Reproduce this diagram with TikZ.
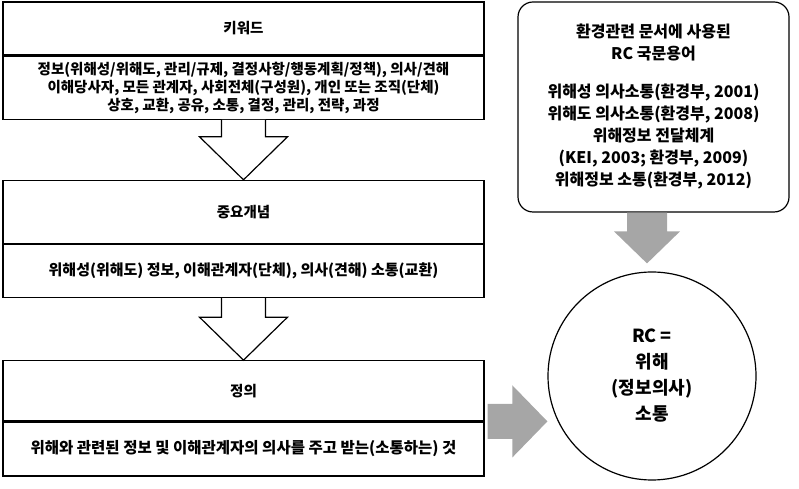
\documentclass[tikz,border=0pt]{standalone}
\usepackage{fontspec}
\setmainfont{Noto Sans CJK KR}
\usetikzlibrary{positioning}
\usetikzlibrary{calc}
\tikzset{frame/.style={line width=1.2pt, draw=black}}
\tikzset{headBox/.style={frame, minimum width=481pt, inner sep=0pt, font=\bfseries\fontsize{14.5}{17}\selectfont}}
\tikzset{bodyBox/.style={frame, minimum width=481pt, inner sep=0pt, align=center}}
\tikzset{hollowArrow/.style={line width=1.2pt, fill=white, draw=black}}
\tikzset{greyArrow/.style={fill=black!35!white, draw=none}}

\begin{document}
\begin{tikzpicture}[x=1pt,y=1pt]
\useasboundingbox (0,0) rectangle (799,489);
%
% keywords
\node[headBox, minimum height=53pt] (kwHead) at (243.5,460.5) {키워드};
\node[bodyBox, minimum height=63pt, below=0pt of kwHead, font=\bfseries\fontsize{14.5}{18}\selectfont] (kwBody) {
	정보(위해성/위해도, 관리/규제, 결정사항/행동계획/정책), 의사/견해\\
	이해당사자, 모든 관계자, 사회전체(구성원), 개인 또는 조직(단체)\\
	상호, 교환, 공유, 소통, 결정, 관리, 전략, 과정
	};
%
% key concepts
\node[headBox, minimum height=63pt, below=60pt of kwBody] (conceptHead) {중요개념};
\node[bodyBox, minimum height=53pt, below=0pt of conceptHead, font=\bfseries\fontsize{15}{18}\selectfont] (conceptBody) {위해성(위해도) 정보, 이해관계자(단체), 의사(견해) 소통(교환)};
%
% definition
\node[headBox, minimum height=60pt, below=62pt of conceptBody] (defHead) {정의};
\node[bodyBox, minimum height=54pt, below=0pt of defHead, font=\bfseries\fontsize{15.5}{18}\selectfont] (defBody) {위해와 관련된 정보 및 이해관계자의 의사를 주고 받는(소통하는) 것};
%
% hollow arrows between the boxes
\draw[hollowArrow] ($(kwBody.south)+(-22,0)$) |- ($(conceptHead.north)+(-44,43)$) -- (conceptHead.north) -- ($(conceptHead.north)+(44,43)$) -| ($(kwBody.south)+(22,0)$);
\draw[hollowArrow] ($(conceptBody.south)+(-22,0)$) |- ($(defHead.north)+(-44,43)$) -- (defHead.north) -- ($(defHead.north)+(44,43)$) -| ($(conceptBody.south)+(22,0)$);
%
% terms used in documents
\node[frame, rounded corners=15pt, minimum width=271pt, minimum height=210pt, align=center,
	font=\bfseries\fontsize{16}{22}\selectfont] (terms) at (653.5,382) {
	환경관련 문서에 사용된\\
	RC 국문용어\\[16pt]
	위해성 의사소통(환경부, 2001)\\
	위해도 의사소통(환경부, 2008)\\
	위해정보 전달체계\\
	(KEI, 2003; 환경부, 2009)\\
	위해정보 소통(환경부, 2012)
	};
%
% RC circle
\node[frame, circle, minimum size=208pt, align=center, font=\bfseries\fontsize{18}{26}\selectfont] (rc) at (652,113) {
	RC =\\
	위해\\
	(정보의사)\\
	소통
	};
%
% grey arrows into the circle
\coordinate (tipD) at ($(rc.north)+(-5,8)$);
\coordinate (topD) at (tipD |- terms.south);
\fill[greyArrow] ($(topD)+(-20,0)$) |- ($(tipD)+(-33,32)$) -- (tipD) -- ($(tipD)+(33,32)$) -| ($(topD)+(20,0)$) -- cycle;
\coordinate (tipR) at (rc.west |- defHead.south);
\coordinate (tailR) at ($(defHead.south east)+(3,0)$);
\fill[greyArrow] ($(tailR)+(0,17.5)$) -- ($(tipR)+(-35,17.5)$) -- ($(tipR)+(-35,36)$) -- (tipR) -- ($(tipR)+(-35,-36)$) -- ($(tipR)+(-35,-17.5)$) -- ($(tailR)+(0,-17.5)$) -- cycle;
\end{tikzpicture}
\end{document}
